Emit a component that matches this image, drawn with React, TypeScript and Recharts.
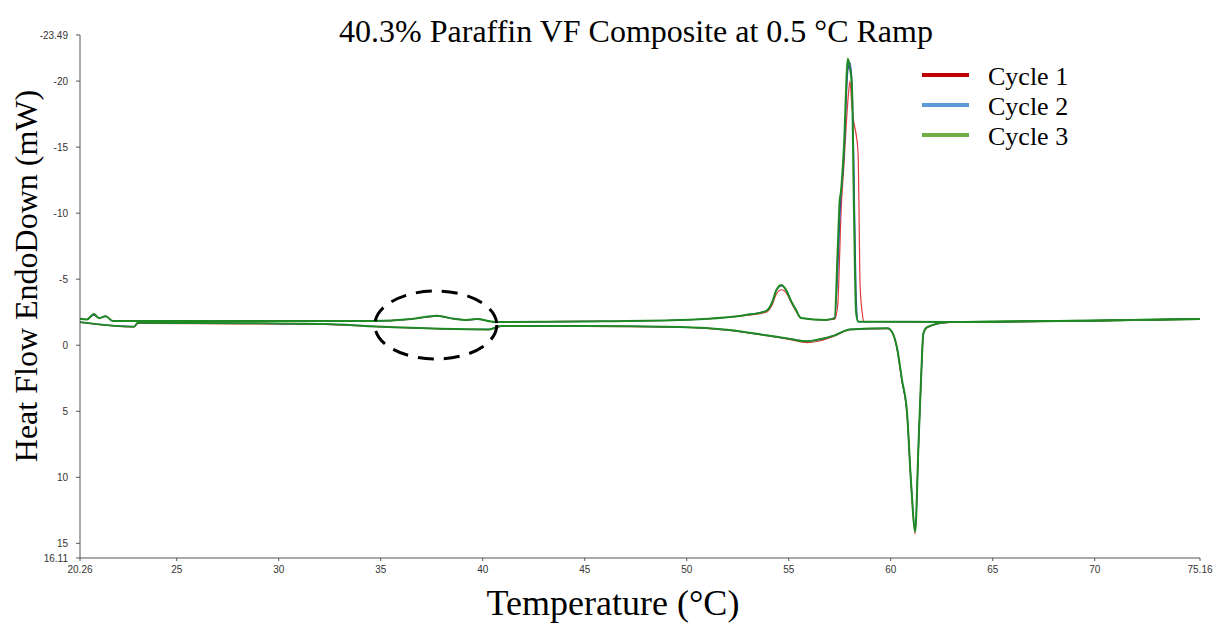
import React from 'react';
import { LineChart, Line, XAxis, YAxis, ReferenceDot } from 'recharts';

// heating branch (lower trace), temperatures in °C
const heatT = [20.26, 22.9, 23.1, 28.2, 32.3, 34.8, 40.3, 40.9, 45, 49.65, 52.1, 53.7, 55.0, 55.9, 56.5, 57.25, 58.0, 59.85, 60.1, 60.3, 60.55, 60.8, 61.0, 61.2, 61.35, 61.5, 61.6, 61.8, 62.9, 70.2, 75.16];
const heatCycle1 = [-1.72, -1.38, -1.65, -1.62, -1.58, -1.4, -1.18, -1.43, -1.43, -1.36, -1.12, -0.78, -0.45, -0.2, -0.32, -0.7, -1.18, -1.26, -0.88, 0.2, 2.7, 5.2, 10.6, 14.3, 8.1, 2.1, -0.85, -1.35, -1.72, -1.85, -1.97];
const heatCycle2 = [-1.75, -1.42, -1.7, -1.67, -1.6, -1.42, -1.2, -1.45, -1.45, -1.38, -1.15, -0.8, -0.5, -0.32, -0.42, -0.75, -1.2, -1.28, -0.9, 0.15, 2.7, 5.2, 10.4, 14.0, 8.2, 2.2, -0.9, -1.38, -1.75, -1.87, -1.99];
const heatCycle3 = [-1.75, -1.4, -1.7, -1.67, -1.6, -1.42, -1.2, -1.45, -1.45, -1.38, -1.15, -0.8, -0.5, -0.3, -0.45, -0.75, -1.2, -1.28, -0.9, 0.13, 2.6, 5.1, 10.5, 14.1, 8.0, 2.0, -0.9, -1.38, -1.75, -1.87, -1.99];

// cooling branch (upper trace), listed by ascending temperature
const coolT = [20.26, 20.6, 20.94, 21.2, 21.52, 21.87, 25, 30, 34.6, 36.5, 37.75, 38.6, 39.2, 39.7, 40.6, 45, 49.65, 52.9, 53.9, 54.2, 54.4, 54.65, 54.9, 55.1, 55.35, 55.6, 56.8, 57.25, 57.4, 57.5, 57.55, 57.7, 57.9, 58.0, 58.1, 58.2, 58.3, 58.4, 58.5, 58.6, 58.7, 62.9, 70.2, 75.16];
const coolCycle1 = [-2.0, -1.95, -2.3, -2.05, -2.2, -1.83, -1.83, -1.83, -1.83, -1.98, -2.2, -2.0, -1.91, -1.98, -1.76, -1.8, -1.91, -2.25, -2.5, -3.1, -3.9, -4.2, -3.9, -3.3, -2.6, -2.06, -1.92, -1.98, -3.0, -7.0, -9.5, -13.5, -18.5, -20.0, -18.0, -16.8, -16.0, -14.5, -4.5, -2.5, -1.78, -1.76, -1.87, -1.99];
const coolCycle2 = [-2.0, -1.95, -2.3, -2.05, -2.2, -1.83, -1.83, -1.83, -1.83, -1.98, -2.2, -2.0, -1.91, -1.98, -1.76, -1.8, -1.91, -2.29, -2.6, -3.3, -4.2, -4.5, -4.1, -3.4, -2.7, -2.06, -1.92, -2.05, -5.5, -9.5, -11.0, -14.0, -20.8, -21.4, -20.0, -13.0, -4.0, -1.8, -1.78, -1.78, -1.78, -1.76, -1.87, -1.99];
const coolCycle3 = [-2.0, -1.95, -2.36, -2.05, -2.2, -1.83, -1.83, -1.83, -1.83, -1.98, -2.24, -2.0, -1.91, -1.98, -1.76, -1.8, -1.91, -2.29, -2.6, -3.3, -4.2, -4.56, -4.1, -3.4, -2.7, -2.06, -1.92, -2.05, -7.2, -11.0, -11.5, -14.8, -21.7, -21.0, -19.5, -10.0, -2.5, -1.8, -1.78, -1.78, -1.78, -1.76, -1.87, -1.99];

const xTicks = [20.26, 25, 30, 35, 40, 45, 50, 55, 60, 65, 70, 75.16];
const yTicks = [-23.49, -20, -15, -10, -5, 0, 5, 10, 15, 16.11];

const cycles = ['Cycle 1', 'Cycle 2', 'Cycle 3'];
const legendColors = ['#C00000', '#5B9BD5', '#70AD47'];
const lineColors = ['#e03a3a', '#2b3fc4', '#1f8a24'];

const toPoints = (temps: number[], vals: number[]) => temps.map((t, i) => ({ t, v: vals[i] }));

// each cycle = heating trace + cooling trace
const traces = [
  { cycle: 0, kind: 'heat', data: toPoints(heatT, heatCycle1) },
  { cycle: 0, kind: 'cool', data: toPoints(coolT, coolCycle1) },
  { cycle: 1, kind: 'heat', data: toPoints(heatT, heatCycle2) },
  { cycle: 1, kind: 'cool', data: toPoints(coolT, coolCycle2) },
  { cycle: 2, kind: 'heat', data: toPoints(heatT, heatCycle3) },
  { cycle: 2, kind: 'cool', data: toPoints(coolT, coolCycle3) },
];

const serif = '"Liberation Serif", "Times New Roman", serif';
const sans = '"Liberation Sans", Arial, sans-serif';

const App: React.FC = () => {
  return (
    <div style={{ position: 'absolute', left: 0, top: 0, width: 1213, height: 623, background: '#fff' }}>
      <LineChart width={1213} height={623} margin={{ top: 35, right: 13, bottom: 0, left: 0 }}>
        <XAxis
          dataKey="t"
          type="number"
          domain={[20.26, 75.16]}
          ticks={xTicks}
          interval={0}
          height={65}
          tickSize={3}
          tickMargin={5}
          stroke="#555"
          tick={{ fontFamily: sans, fontSize: 10, fill: '#333' }}
          allowDuplicatedCategory={false}
        />
        <YAxis
          type="number"
          domain={[-23.49, 16.11]}
          reversed
          ticks={yTicks}
          interval={0}
          width={80}
          tickSize={4}
          tickMargin={8}
          stroke="#555"
          tick={{ fontFamily: sans, fontSize: 10, fill: '#333' }}
        />
        {traces.map((tr) => (
          <Line
            key={`${tr.cycle}-${tr.kind}`}
            data={tr.data}
            dataKey="v"
            name={cycles[tr.cycle]}
            type="monotone"
            stroke={lineColors[tr.cycle]}
            strokeWidth={tr.cycle === 2 ? 2 : 1.2}
            dot={false}
            isAnimationActive={false}
          />
        ))}
        <ReferenceDot
          x={37.7}
          y={-1.53}
          shape={(p: any) => (
            <ellipse cx={p.cx} cy={p.cy} rx={61} ry={34} fill="none" stroke="#000" strokeWidth={3} strokeDasharray="16 10" />
          )}
        />
      </LineChart>

      <div style={{ position: 'absolute', left: 922, top: 62, fontFamily: serif, fontSize: 26, color: '#000' }}>
        {cycles.map((name, i) => (
          <div key={name} style={{ display: 'flex', alignItems: 'center', height: 30 }}>
            <div style={{ width: 47, height: 4, background: legendColors[i], marginRight: 19, marginTop: -4 }} />
            <span>{name}</span>
          </div>
        ))}
      </div>

      <div style={{ position: 'absolute', left: 0, width: 1272, top: 13, textAlign: 'center', fontFamily: serif, fontSize: 32, color: '#000' }}>
        40.3% Paraffin VF Composite at 0.5 °C Ramp
      </div>
      <div style={{ position: 'absolute', left: 0, width: 1226, top: 582, textAlign: 'center', fontFamily: serif, fontSize: 36, color: '#000' }}>
        Temperature (°C)
      </div>
      <div
        style={{
          position: 'absolute',
          left: 26,
          top: 276,
          transform: 'translate(-50%, -50%) rotate(-90deg)',
          whiteSpace: 'nowrap',
          fontFamily: serif,
          fontSize: 32,
          color: '#000',
        }}
      >
        Heat Flow EndoDown (mW)
      </div>
    </div>
  );
};

export default App;
